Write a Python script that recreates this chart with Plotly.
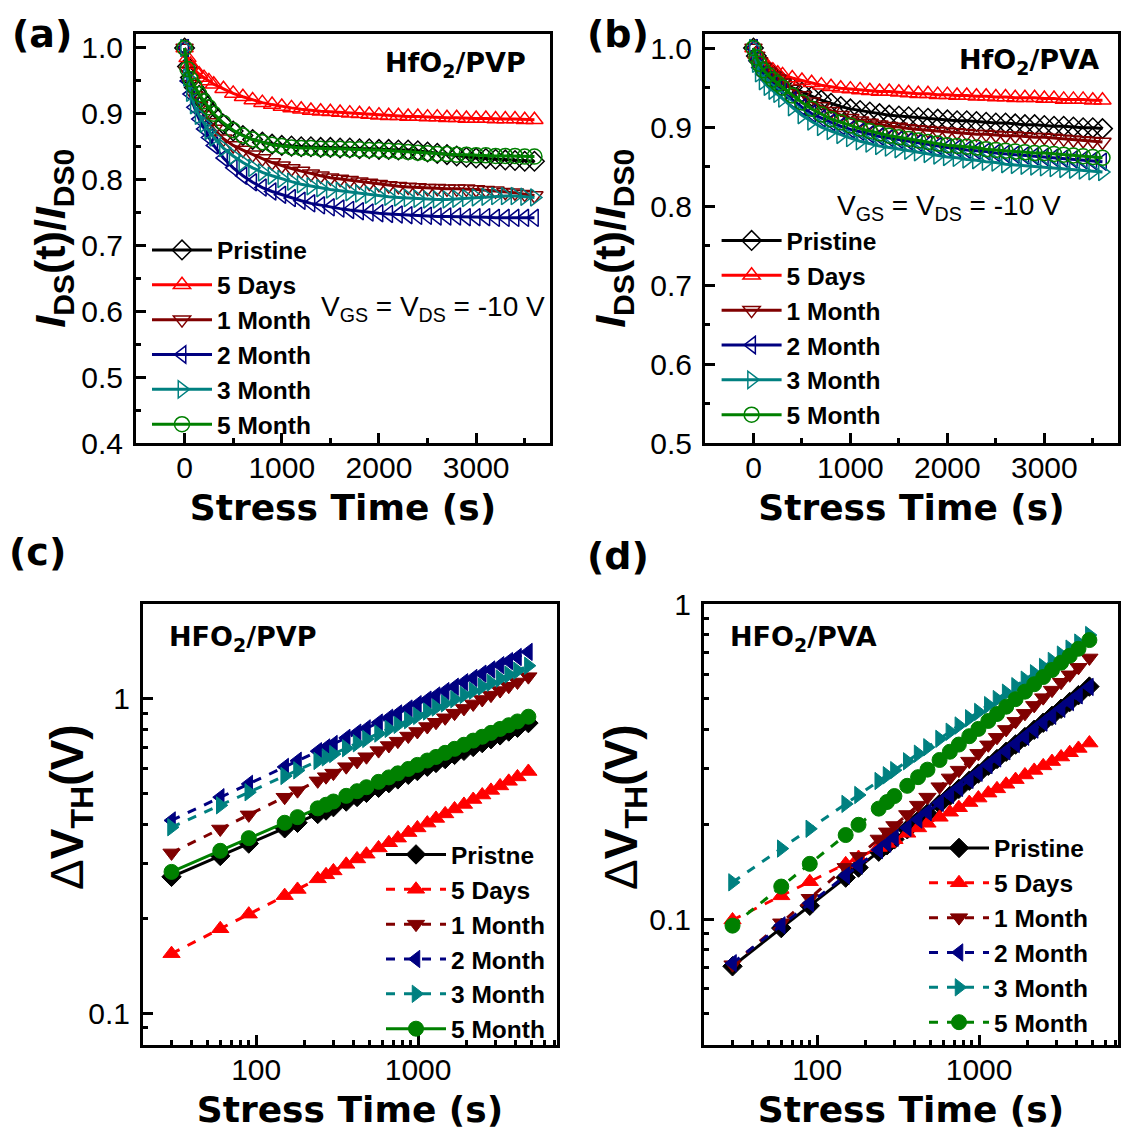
import plotly.graph_objects as go

# ---------------- data ----------------
series_names = ["Pristine", "5 Days", "1 Month", "2 Month", "3 Month", "5 Month"]
series_names_c = ["Pristne", "5 Days", "1 Month", "2 Month", "3 Month", "5 Month"]
colors = ["#000000", "#FF0000", "#800000", "#000080", "#008080", "#008000"]
symbols = ["diamond", "triangle-up", "triangle-down", "triangle-left", "triangle-right", "circle"]

# stress time for panels (a) and (b), s
t_ab = [0, 30, 60, 100, 150, 200, 250, 300, 400, 500, 600, 700, 800, 900, 1000,
        1100, 1200, 1300, 1400, 1500, 1600, 1700, 1800, 1900, 2000, 2100, 2200,
        2300, 2400, 2500, 2600, 2700, 2800, 2900, 3000, 3100, 3200, 3300, 3400,
        3500, 3600]

# (a) HfO2/PVP : I_DS(t)/I_DS0
pristine_a = [1.000, 0.972, 0.955, 0.940, 0.928, 0.917, 0.907, 0.898, 0.884, 0.874, 0.867, 0.861, 0.857, 0.854, 0.852, 0.851, 0.850, 0.850, 0.849, 0.849, 0.848, 0.848, 0.847, 0.847, 0.846, 0.846, 0.845, 0.845, 0.844, 0.842, 0.840, 0.838, 0.836, 0.834, 0.833, 0.832, 0.831, 0.830, 0.829, 0.828, 0.828]
days5_a = [1.000, 0.985, 0.975, 0.967, 0.960, 0.955, 0.950, 0.945, 0.938, 0.931, 0.926, 0.921, 0.917, 0.914, 0.911, 0.909, 0.907, 0.905, 0.904, 0.903, 0.902, 0.901, 0.900, 0.899, 0.898, 0.897, 0.897, 0.896, 0.896, 0.895, 0.895, 0.894, 0.894, 0.893, 0.893, 0.893, 0.892, 0.892, 0.892, 0.891, 0.891]
month1_a = [1.000, 0.965, 0.945, 0.928, 0.912, 0.898, 0.887, 0.877, 0.862, 0.852, 0.845, 0.838, 0.832, 0.826, 0.821, 0.817, 0.813, 0.809, 0.806, 0.803, 0.801, 0.799, 0.797, 0.795, 0.793, 0.791, 0.790, 0.789, 0.788, 0.787, 0.787, 0.786, 0.786, 0.786, 0.785, 0.784, 0.783, 0.781, 0.780, 0.778, 0.776]
month2_a = [1.000, 0.950, 0.930, 0.910, 0.892, 0.877, 0.864, 0.852, 0.833, 0.818, 0.806, 0.796, 0.788, 0.782, 0.777, 0.772, 0.768, 0.764, 0.761, 0.758, 0.756, 0.754, 0.752, 0.750, 0.749, 0.748, 0.747, 0.746, 0.745, 0.745, 0.744, 0.744, 0.744, 0.743, 0.743, 0.743, 0.742, 0.742, 0.742, 0.742, 0.742]
month3_a = [1.000, 0.955, 0.932, 0.913, 0.897, 0.885, 0.874, 0.864, 0.848, 0.836, 0.826, 0.818, 0.811, 0.806, 0.801, 0.797, 0.793, 0.790, 0.787, 0.785, 0.783, 0.781, 0.779, 0.777, 0.775, 0.774, 0.773, 0.772, 0.771, 0.770, 0.770, 0.770, 0.771, 0.772, 0.773, 0.774, 0.775, 0.775, 0.775, 0.774, 0.773]
month5_a = [1.000, 0.968, 0.953, 0.942, 0.930, 0.919, 0.910, 0.900, 0.886, 0.875, 0.867, 0.861, 0.857, 0.853, 0.851, 0.849, 0.848, 0.848, 0.847, 0.847, 0.847, 0.846, 0.846, 0.845, 0.845, 0.844, 0.843, 0.842, 0.841, 0.840, 0.839, 0.839, 0.838, 0.838, 0.837, 0.837, 0.836, 0.836, 0.836, 0.835, 0.835]

# (b) HfO2/PVA : I_DS(t)/I_DS0
pristine_b = [1.000, 0.990, 0.983, 0.977, 0.971, 0.966, 0.961, 0.957, 0.950, 0.944, 0.939, 0.934, 0.930, 0.926, 0.923, 0.921, 0.919, 0.917, 0.915, 0.914, 0.913, 0.912, 0.911, 0.910, 0.909, 0.908, 0.908, 0.907, 0.906, 0.905, 0.905, 0.904, 0.903, 0.903, 0.902, 0.901, 0.901, 0.900, 0.899, 0.899, 0.898]
days5_b = [1.000, 0.992, 0.986, 0.981, 0.976, 0.972, 0.968, 0.966, 0.962, 0.959, 0.956, 0.953, 0.951, 0.949, 0.948, 0.947, 0.946, 0.945, 0.945, 0.944, 0.943, 0.942, 0.942, 0.941, 0.941, 0.940, 0.940, 0.939, 0.939, 0.938, 0.938, 0.937, 0.937, 0.937, 0.936, 0.936, 0.935, 0.935, 0.935, 0.934, 0.934]
month1_b = [1.000, 0.990, 0.983, 0.976, 0.970, 0.965, 0.961, 0.956, 0.948, 0.940, 0.932, 0.926, 0.920, 0.915, 0.911, 0.908, 0.905, 0.903, 0.901, 0.900, 0.898, 0.897, 0.896, 0.895, 0.894, 0.893, 0.892, 0.891, 0.891, 0.890, 0.889, 0.889, 0.888, 0.887, 0.887, 0.886, 0.885, 0.884, 0.883, 0.882, 0.881]
month2_b = [1.000, 0.984, 0.975, 0.967, 0.960, 0.954, 0.949, 0.944, 0.934, 0.925, 0.917, 0.911, 0.906, 0.901, 0.897, 0.894, 0.891, 0.888, 0.886, 0.884, 0.882, 0.880, 0.878, 0.876, 0.874, 0.873, 0.871, 0.870, 0.869, 0.867, 0.866, 0.865, 0.864, 0.863, 0.862, 0.861, 0.860, 0.859, 0.858, 0.857, 0.856]
month3_b = [1.000, 0.980, 0.968, 0.958, 0.951, 0.946, 0.942, 0.936, 0.925, 0.915, 0.907, 0.900, 0.895, 0.890, 0.886, 0.882, 0.879, 0.876, 0.874, 0.872, 0.870, 0.868, 0.866, 0.864, 0.862, 0.861, 0.859, 0.858, 0.856, 0.855, 0.853, 0.852, 0.851, 0.850, 0.849, 0.848, 0.847, 0.846, 0.845, 0.844, 0.843]
month5_b = [1.000, 0.988, 0.980, 0.972, 0.966, 0.960, 0.955, 0.950, 0.940, 0.931, 0.923, 0.916, 0.910, 0.906, 0.902, 0.898, 0.895, 0.892, 0.889, 0.887, 0.885, 0.883, 0.881, 0.879, 0.877, 0.876, 0.875, 0.874, 0.872, 0.871, 0.870, 0.869, 0.868, 0.867, 0.867, 0.866, 0.865, 0.864, 0.863, 0.862, 0.861]

# stress time for panels (c) and (d), s
t_cd = [30, 60, 90, 150, 180, 240, 270, 300, 360, 420, 480, 570, 660, 750, 870,
        990, 1140, 1290, 1470, 1680, 1920, 2190, 2490, 2820, 3210, 3630, 4110, 4800]

# (c) HFO2/PVP : delta V_TH (V)
pristine_c = [0.272, 0.317, 0.347, 0.388, 0.404, 0.431, 0.442, 0.453, 0.472, 0.488, 0.503, 0.522, 0.540, 0.555, 0.574, 0.590, 0.609, 0.626, 0.644, 0.664, 0.684, 0.704, 0.724, 0.745, 0.766, 0.788, 0.810, 0.838]
days5_c = [0.155, 0.186, 0.207, 0.237, 0.248, 0.268, 0.276, 0.284, 0.298, 0.310, 0.321, 0.336, 0.349, 0.361, 0.376, 0.389, 0.403, 0.417, 0.431, 0.447, 0.462, 0.479, 0.495, 0.512, 0.529, 0.547, 0.565, 0.588]
month1_c = [0.324, 0.386, 0.428, 0.487, 0.511, 0.549, 0.566, 0.581, 0.609, 0.633, 0.655, 0.685, 0.711, 0.734, 0.762, 0.788, 0.817, 0.843, 0.871, 0.901, 0.933, 0.964, 0.996, 1.028, 1.063, 1.097, 1.132, 1.177]
month2_c = [0.411, 0.487, 0.537, 0.608, 0.636, 0.682, 0.701, 0.719, 0.752, 0.781, 0.806, 0.841, 0.871, 0.899, 0.932, 0.962, 0.995, 1.025, 1.059, 1.093, 1.130, 1.166, 1.203, 1.240, 1.280, 1.319, 1.359, 1.411]
month3_c = [0.391, 0.459, 0.505, 0.569, 0.593, 0.635, 0.652, 0.668, 0.697, 0.723, 0.746, 0.776, 0.803, 0.827, 0.856, 0.883, 0.912, 0.939, 0.968, 0.998, 1.030, 1.062, 1.094, 1.126, 1.161, 1.195, 1.230, 1.275]
month5_c = [0.282, 0.329, 0.361, 0.404, 0.421, 0.449, 0.461, 0.472, 0.492, 0.509, 0.524, 0.545, 0.563, 0.580, 0.599, 0.617, 0.637, 0.654, 0.674, 0.694, 0.715, 0.737, 0.758, 0.780, 0.803, 0.825, 0.848, 0.878]

# (d) HFO2/PVA : delta V_TH (V)
pristine_d = [0.0708, 0.0936, 0.1102, 0.1354, 0.1457, 0.1637, 0.1716, 0.1791, 0.1928, 0.2051, 0.2164, 0.2320, 0.2460, 0.2591, 0.2750, 0.2897, 0.3067, 0.3223, 0.3398, 0.3585, 0.3783, 0.3990, 0.4202, 0.4418, 0.4654, 0.4891, 0.5141, 0.5473]
days5_d = [0.0993, 0.1185, 0.1314, 0.1497, 0.1568, 0.1688, 0.1739, 0.1786, 0.1872, 0.1947, 0.2014, 0.2104, 0.2184, 0.2257, 0.2344, 0.2422, 0.2511, 0.2591, 0.2679, 0.2772, 0.2868, 0.2965, 0.3065, 0.3163, 0.3270, 0.3374, 0.3482, 0.3622]
month1_d = [0.0716, 0.0973, 0.1164, 0.1459, 0.1581, 0.1796, 0.1892, 0.1982, 0.2148, 0.2300, 0.2439, 0.2632, 0.2807, 0.2971, 0.3173, 0.3359, 0.3575, 0.3776, 0.4001, 0.4244, 0.4500, 0.4770, 0.5048, 0.5333, 0.5649, 0.5965, 0.6301, 0.6748]
month2_d = [0.0724, 0.0955, 0.1122, 0.1375, 0.1478, 0.1657, 0.1737, 0.1811, 0.1948, 0.2071, 0.2184, 0.2339, 0.2479, 0.2609, 0.2767, 0.2913, 0.3082, 0.3237, 0.3410, 0.3595, 0.3792, 0.3996, 0.4206, 0.4419, 0.4653, 0.4887, 0.5132, 0.5459]
month3_d = [0.1308, 0.1674, 0.1935, 0.2321, 0.2477, 0.2744, 0.2862, 0.2971, 0.3170, 0.3350, 0.3512, 0.3735, 0.3934, 0.4118, 0.4341, 0.4547, 0.4780, 0.4996, 0.5234, 0.5489, 0.5756, 0.6033, 0.6317, 0.6603, 0.6915, 0.7225, 0.7551, 0.7980]
month5_d = [0.0953, 0.1268, 0.1497, 0.1848, 0.1992, 0.2242, 0.2353, 0.2458, 0.2649, 0.2822, 0.2982, 0.3200, 0.3399, 0.3582, 0.3808, 0.4017, 0.4257, 0.4478, 0.4725, 0.4992, 0.5275, 0.5568, 0.5870, 0.6178, 0.6518, 0.6857, 0.7217, 0.7691]

# tick values / labels
lin_x_ticks = [0, 1000, 2000, 3000]
y_ticks_a = [0.4, 0.5, 0.6, 0.7, 0.8, 0.9, 1.0]
y_ticks_b = [0.5, 0.6, 0.7, 0.8, 0.9, 1.0]
log_x_ticks = [100, 1000]
log_x_ticktext = ["100", "1000"]
log_x_minor = [20, 30, 40, 50, 60, 70, 80, 90, 200, 300, 400, 500, 600, 700, 800, 900,
               2000, 3000, 4000, 5000, 6000, 7000]
log_y_ticks = [0.1, 1]
log_y_ticktext = ["0.1", "1"]
log_y_minor_c = [0.08, 0.09, 0.2, 0.3, 0.4, 0.5, 0.6, 0.7, 0.8, 0.9, 2]
log_y_minor_d = [0.04, 0.05, 0.06, 0.07, 0.08, 0.09, 0.2, 0.3, 0.4, 0.5, 0.6, 0.7, 0.8, 0.9]

data_a = [pristine_a, days5_a, month1_a, month2_a, month3_a, month5_a]
data_b = [pristine_b, days5_b, month1_b, month2_b, month3_b, month5_b]
data_c = [pristine_c, days5_c, month1_c, month2_c, month3_c, month5_c]
data_d = [pristine_d, days5_d, month1_d, month2_d, month3_d, month5_d]
dash_c = ["solid", "dash", "dash", "dash", "dash", "solid"]
dash_d = ["solid", "dash", "dash", "dash", "dash", "dash"]

W, H = 1123, 1141
TICKFONT = dict(family="Liberation Sans, Arial, sans-serif", size=30, color="black")
BOLDWIDE = "DejaVu Sans, sans-serif"
ARIAL = "Liberation Sans, Arial, sans-serif"


def px_x(p):
    return p / W


def px_y(p):
    return 1 - p / H


fig = go.Figure()

# panels (a) and (b)
for data, xa, ya, leg in [(data_a, "x", "y", "legend"), (data_b, "x2", "y2", "legend2")]:
    for i, vals in enumerate(data):
        fig.add_trace(go.Scatter(
            x=t_ab, y=vals, mode="lines+markers", name=series_names[i],
            xaxis=xa, yaxis=ya, legend=leg,
            line=dict(color=colors[i], width=3),
            marker=dict(symbol=symbols[i] + "-open", size=15, color=colors[i],
                        line=dict(width=1.5, color=colors[i])),
        ))

# panels (c) and (d)
for data, names, dashes, xa, ya, leg in [(data_c, series_names_c, dash_c, "x3", "y3", "legend3"),
                                         (data_d, series_names, dash_d, "x4", "y4", "legend4")]:
    for i, vals in enumerate(data):
        fig.add_trace(go.Scatter(
            x=t_cd, y=vals, mode="lines+markers", name=names[i],
            xaxis=xa, yaxis=ya, legend=leg,
            line=dict(color=colors[i], width=3, dash=dashes[i]),
            marker=dict(symbol=symbols[i], size=15, color=colors[i],
                        line=dict(width=1, color=colors[i])),
        ))


def base_axis(domain, anchor):
    return dict(domain=domain, anchor=anchor, showline=True, linewidth=3, linecolor="black",
                mirror=True, showgrid=False, zeroline=False, ticks="inside", ticklen=10,
                tickwidth=2.5, tickcolor="black", tickfont=TICKFONT, automargin=False)


xdom_a = [px_x(136), px_x(550)]
xdom_b = [px_x(705), px_x(1118)]
xdom_c = [px_x(143), px_x(557)]
xdom_d = [px_x(704), px_x(1118)]
ydom_top = [px_y(443), px_y(33.5)]
ydom_bot = [px_y(1045), px_y(604)]

stress_title = dict(text="<b>Stress Time (s)</b>", font=dict(family=BOLDWIDE, size=36, color="black"), standoff=12)


def ids_title(standoff):
    return dict(text="<b><i>I</i><sub>DS</sub>(t)/<i>I</i><sub>DS0</sub></b>",
                font=dict(family=ARIAL, size=43, color="black"), standoff=standoff)


lin_minor = lambda d: dict(dtick=d, ticks="inside", ticklen=5, tickwidth=2.5, tickcolor="black", showgrid=False)

XLAB_STANDOFF = -4

xa = base_axis(xdom_a, "y")
xa.update(range=[-500, 3760], tickmode="array", tickvals=lin_x_ticks, minor=lin_minor(500), title=stress_title,
          ticklabelstandoff=XLAB_STANDOFF)
ya = base_axis(ydom_top, "x")
ya.update(range=[0.4, 1.022], tickmode="array", tickvals=y_ticks_a, tickformat=".1f", minor=lin_minor(0.05),
          title=ids_title(3), ticklabelstandoff=4)
xb = base_axis(xdom_b, "y2")
xb.update(range=[-500, 3760], tickmode="array", tickvals=lin_x_ticks, minor=lin_minor(500), title=stress_title,
          ticklabelstandoff=XLAB_STANDOFF)
yb = base_axis(ydom_top, "x2")
yb.update(range=[0.5, 1.0184], tickmode="array", tickvals=y_ticks_b, tickformat=".1f", minor=lin_minor(0.05),
          title=ids_title(12), ticklabelstandoff=4)


def log_minor(vals):
    return dict(tickmode="array", tickvals=vals, ticks="inside", ticklen=5, tickwidth=2.5,
                tickcolor="black", showgrid=False)


xc = base_axis(xdom_c, "y3")
xc.update(type="log", range=[1.301, 3.858], tickmode="array", tickvals=log_x_ticks, ticktext=log_x_ticktext,
          minor=log_minor(log_x_minor), title=stress_title, ticklabelstandoff=XLAB_STANDOFF)
yc = base_axis(ydom_bot, "x3")
yc.update(type="log", range=[-1.100, 0.3017], tickmode="array", tickvals=log_y_ticks, ticktext=log_y_ticktext,
          minor=log_minor(log_y_minor_c), ticklabelstandoff=4)
xd = base_axis(xdom_d, "y4")
xd.update(type="log", range=[1.301, 3.858], tickmode="array", tickvals=log_x_ticks, ticktext=log_x_ticktext,
          minor=log_minor(log_x_minor), title=stress_title, ticklabelstandoff=XLAB_STANDOFF)
yd = base_axis(ydom_bot, "x4")
yd.update(type="log", range=[-1.400, 0.0005], tickmode="array", tickvals=log_y_ticks, ticktext=log_y_ticktext,
          minor=log_minor(log_y_minor_d), ticklabelstandoff=4)


def legend_at(left_px, top_px):
    return dict(x=px_x(left_px), y=px_y(top_px), xanchor="left", yanchor="top",
                bgcolor="rgba(0,0,0,0)", borderwidth=0, itemwidth=60,
                font=dict(family=ARIAL, size=24.5, color="black", weight="bold"),
                tracegroupgap=0, itemclick=False)


annotations = []


def ann(text, x, y, size, family, xanchor="left", yanchor="middle", textangle=0):
    annotations.append(dict(text=text, x=x, y=y, xref="paper", yref="paper", showarrow=False,
                            xanchor=xanchor, yanchor=yanchor, textangle=textangle,
                            font=dict(family=family, size=size, color="black")))


ann("<b>(a)</b>", px_x(10), px_y(34), 38, BOLDWIDE)
ann("<b>(b)</b>", px_x(585), px_y(34), 38, BOLDWIDE)
ann("<b>(c)</b>", px_x(7), px_y(552), 38, BOLDWIDE)
ann("<b>(d)</b>", px_x(585), px_y(556), 38, BOLDWIDE)
ann("<b>HfO<sub>2</sub>/PVP</b>", px_x(528), px_y(64), 27, BOLDWIDE, xanchor="right")
ann("<b>HfO<sub>2</sub>/PVA</b>", px_x(1101), px_y(62), 27, BOLDWIDE, xanchor="right")
ann("<b>HFO<sub>2</sub>/PVP</b>", px_x(167), px_y(638), 27, BOLDWIDE)
ann("<b>HFO<sub>2</sub>/PVA</b>", px_x(728), px_y(638), 27, BOLDWIDE)
ann("V<sub>GS</sub> = V<sub>DS</sub> = -10 V", px_x(319), px_y(308), 28, ARIAL)
ann("V<sub>GS</sub> = V<sub>DS</sub> = -10 V", px_x(835), px_y(207), 28, ARIAL)
ann("Δ<b>V<sub>TH</sub>(V)</b>", px_x(70), px_y(807), 46, ARIAL, xanchor="center", textangle=-90)
ann("Δ<b>V<sub>TH</sub>(V)</b>", px_x(624), px_y(807), 46, ARIAL, xanchor="center", textangle=-90)

fig.update_layout(
    width=W, height=H, margin=dict(l=0, r=0, t=0, b=0, autoexpand=False),
    paper_bgcolor="white", plot_bgcolor="white",
    xaxis=xa, yaxis=ya, xaxis2=xb, yaxis2=yb, xaxis3=xc, yaxis3=yc, xaxis4=xd, yaxis4=yd,
    legend=legend_at(147, 227.5), legend2=legend_at(716.6, 218),
    legend3=legend_at(381, 832), legend4=legend_at(924, 825.5),
    annotations=annotations,
)

fig.write_html("out.html", post_script="document.body.style.margin='0';document.body.style.padding='0';")
